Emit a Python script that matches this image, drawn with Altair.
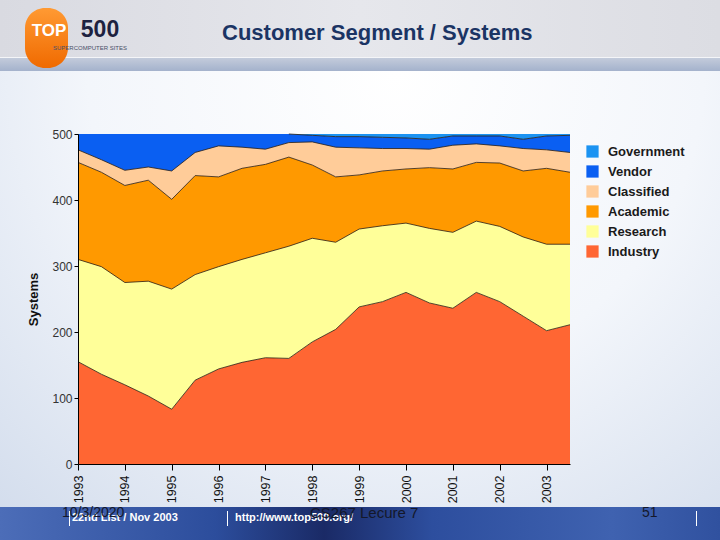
import altair as alt
import pandas as pd

# TOP500 lists (June / November), 1993 - 2003
list_dates = [1993.0, 1993.5, 1994.0, 1994.5, 1995.0, 1995.5, 1996.0, 1996.5,
              1997.0, 1997.5, 1998.0, 1998.5, 1999.0, 1999.5, 2000.0, 2000.5,
              2001.0, 2001.5, 2002.0, 2002.5, 2003.0, 2003.5]

# systems per customer segment on each list
industry = [155, 136, 120, 103, 83, 127, 144, 154, 161, 160, 185,
            204, 238, 246, 260, 244, 236, 260, 246, 224, 202, 211]
research = [155, 163, 155, 174, 182, 160, 155, 156, 159, 170, 157,
            132, 118, 115, 105, 113, 115, 108, 114, 120, 131, 122]
academic = [147, 143, 147, 153, 136, 150, 136, 138, 134, 135, 111,
            99, 82, 83, 82, 92, 96, 89, 96, 100, 115, 109]
classified = [19, 19, 23, 20, 43, 35, 47, 32, 23, 22, 35,
              45, 41, 34, 31, 28, 36, 28, 26, 34, 28, 30]
vendor = [24, 39, 55, 50, 56, 28, 18, 20, 23, 13, 10,
          16, 17, 17, 16, 15, 14, 12, 15, 14, 21, 26]
government = [0, 0, 0, 0, 0, 0, 0, 0, 0, 0, 2,
              4, 4, 5, 6, 8, 3, 3, 3, 8, 3, 2]

segments = ["Government", "Vendor", "Classified", "Academic", "Research", "Industry"]
seg_colors = ["#1b93f2", "#0a5ff2", "#ffcc99", "#ff9900", "#ffff99", "#ff6633"]
y_ticks = [0, 50, 100, 150, 200, 250, 300, 350, 400, 450, 500]

# stack bottom-up: Industry first
series = {"Industry": industry, "Research": research, "Academic": academic,
          "Classified": classified, "Vendor": vendor, "Government": government}
rows = []
running = [0] * len(list_dates)
for name, vals in series.items():
    for i, d in enumerate(list_dates):
        rows.append({"date": d, "segment": name, "systems": vals[i],
                     "bottom": running[i], "top": running[i] + vals[i]})
    running = [running[i] + vals[i] for i in range(len(list_dates))]
df = pd.DataFrame(rows)

# plot-area placement on the 720x540 page
OX, OY = 78, 134
W, H = 492, 330
FONT = "Liberation Sans"

x_enc = alt.X(
    "date:Q",
    scale=alt.Scale(domain=[1993, 2003.5], nice=False, zero=False),
    axis=alt.Axis(
        values=[1993 + k * 0.5 for k in range(22)],
        labelExpr="datum.value % 1 === 0 ? datum.value : ''",
        labelAngle=270, labelFontSize=12.5, labelColor="#111111", labelPadding=5,
        tickSize={"condition": {"test": "datum.value % 1 === 0", "value": 6}, "value": 4},
        tickColor="#000000", domainColor="#000000", title=None, grid=False,
        labelFlush=False, labelOverlap=False, zindex=2,
    ),
)
y_enc = alt.Y(
    "top:Q",
    scale=alt.Scale(domain=[0, 500], nice=False),
    axis=alt.Axis(
        values=y_ticks, title="Systems", titleFontSize=13, titleFontWeight="bold",
        titleColor="#111111", titlePadding=11, labelFontSize=12, labelColor="#333333",
        labelPadding=2, tickSize=4, tickColor="#000000", domainColor="#000000", grid=False,
        zindex=2,
    ),
)

area = alt.Chart(df).mark_area(opacity=1).encode(
    x=x_enc,
    y=y_enc,
    y2="bottom:Q",
    color=alt.Color(
        "segment:N",
        scale=alt.Scale(domain=segments, range=seg_colors),
        legend=alt.Legend(
            title=None, orient="none", legendX=508, legendY=11, padding=0,
            symbolType="square", symbolSize=150, symbolStrokeWidth=0, symbolOpacity=1,
            labelFontSize=13, labelFontWeight="bold", labelColor="#1a1a1a",
            labelFont=FONT, rowPadding=6, labelOffset=9, zindex=2,
        ),
    ),
)

# dark boundary lines between segments (none along the 500 ceiling)
edges = alt.Chart(df).transform_filter(
    (alt.datum.segment != "Government")
    & ((alt.datum.segment != "Vendor") | (alt.datum.date >= 1997.5))
).mark_line(color="#2a1a0c", strokeWidth=0.8).encode(
    x="date:Q", y="top:Q", detail="segment:N"
)

one = pd.DataFrame({"k": [0]})


def box(x1, y1, x2, y2, color, **kw):
    return alt.Chart(one).mark_rect(color=color, **kw).encode(
        x=alt.value(x1 - OX), x2=alt.value(x2 - OX),
        y=alt.value(y1 - OY), y2=alt.value(y2 - OY))


def words(s, x, y, **kw):
    return alt.Chart(one).mark_text(**kw).encode(
        x=alt.value(x - OX), y=alt.value(y - OY), text=alt.value(s))


def lin(stops, horizontal=True):
    return alt.LinearGradient(
        gradient="linear",
        stops=[alt.GradientStop(color=c, offset=o) for o, c in stops],
        x1=0, y1=0, x2=1 if horizontal else 0, y2=0 if horizontal else 1)


body = box(0, 70, 720, 508, alt.RadialGradient(
    gradient="radial",
    stops=[alt.GradientStop(color="#ffffff", offset=0),
           alt.GradientStop(color="#f3f6fb", offset=0.45),
           alt.GradientStop(color="#c9d5e8", offset=1)],
    x1=0.55, y1=0.2, r1=0, x2=0.55, y2=0.2, r2=0.95))
header = box(0, 0, 720, 58, lin([(0, "#d9dae1"), (0.5, "#e6e7ec"), (1, "#dcdde3")]))
band = box(0, 58, 720, 71, lin([(0, "#c3cbdb"), (1, "#a4b2cc")], horizontal=False))
band_hi = box(0, 57, 720, 58, "#f4f5f8")
footer = box(0, 507, 720, 540, lin([(0, "#4c6db8"), (0.3, "#2c4d9c"), (0.45, "#1a2a66"),
                                     (0.6, "#2d4e9e"), (0.85, "#3f62b0"), (1, "#30519f")]))

logo_blob = box(25, 8, 68, 68, lin([(0, "#ff9a33"), (1, "#f06a00")], horizontal=False),
                cornerRadius=20)
logo_top = words("TOP", 49, 31, font=FONT, fontSize=17, fontWeight="bold",
                 color="#ffffff", align="center", baseline="middle")
logo_500 = words("500", 100, 30, font=FONT, fontSize=23, fontWeight="bold",
                 color="#1d2240", align="center", baseline="middle")
logo_sub = words("SUPERCOMPUTER SITES", 53, 48, font=FONT, fontSize=6,
                 color="#4a4f66", align="left", baseline="middle")
title = words("Customer Segment / Systems", 222, 33,
              font="Liberation Sans Narrow, Liberation Sans, sans-serif",
              fontSize=22, fontWeight="bold", color="#1b3464",
              align="left", baseline="middle")

sep1 = box(69, 511, 70, 526, "#ffffff")
sep2 = box(227, 511, 228, 526, "#ffffff")
sep3 = box(696, 511, 697, 526, "#ffffff")
foot1 = words("22nd List / Nov 2003", 72, 518, font=FONT, fontSize=11,
              fontWeight="bold", color="#ffffff", align="left", baseline="middle")
foot2 = words("http://www.top500.org/", 235, 518, font=FONT, fontSize=11,
              fontWeight="bold", color="#ffffff", align="left", baseline="middle")
foot3 = words("10/3/2020", 62, 513, font=FONT, fontSize=14,
              color="#14182a", align="left", baseline="middle")
foot4 = words("CS267 Lecure 7", 310, 513, font=FONT, fontSize=15,
              color="#14182a", align="left", baseline="middle")
foot5 = words("51", 642, 513, font=FONT, fontSize=14,
              color="#14182a", align="left", baseline="middle")

chart = alt.layer(
    body, header, band_hi, band, footer,
    logo_blob, logo_top, logo_500, logo_sub, title,
    area, edges,
    sep1, sep2, sep3, foot1, foot2, foot3, foot4, foot5,
).properties(
    width=W, height=H,
    autosize=alt.AutoSizeParams(type="none"),
    padding={"left": OX, "top": OY, "right": 720 - OX - W, "bottom": 540 - OY - H},
    background="#eef1f7",
).configure_view(
    stroke=None
).configure(
    font=FONT
).configure_axis(
    labelFont=FONT, titleFont=FONT, domainWidth=1, tickWidth=1
)

chart.save("out.html", embed_options={"renderer": "svg", "actions": False})
